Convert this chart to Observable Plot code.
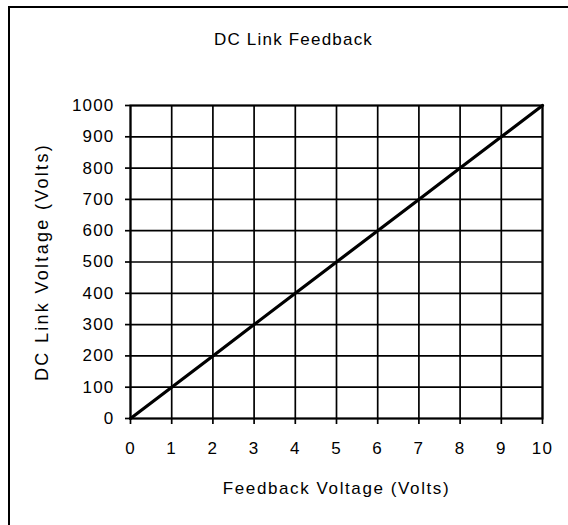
<!DOCTYPE html>
<html>
<head>
<meta charset="utf-8">
<script src="https://cdn.jsdelivr.net/npm/d3@7"></script>
<script src="https://cdn.jsdelivr.net/npm/@observablehq/plot@0.6"></script>
<style>
  html, body { margin: 0; padding: 0; background: #fff; overflow: hidden; }
  #wrap { position: relative; width: 568px; height: 525px; overflow: hidden; }
  #border { position: absolute; left: 8px; top: 6px; width: 700px; height: 700px; border: 2px solid #000; box-sizing: border-box; }
  #chart { position: absolute; left: 0; top: 0; }
</style>
</head>
<body>
<div id="wrap"><div id="border"></div><div id="chart"></div></div>
<script>
const title = "DC Link Feedback";
const xLabel = "Feedback Voltage (Volts)";
const yLabel = "DC Link Voltage (Volts)";
const xTicks = [0, 1, 2, 3, 4, 5, 6, 7, 8, 9, 10];
const yTicks = [0, 100, 200, 300, 400, 500, 600, 700, 800, 900, 1000];
const feedback = [0, 1, 2, 3, 4, 5, 6, 7, 8, 9, 10];
const dcLink = [0, 100, 200, 300, 400, 500, 600, 700, 800, 900, 1000];

const data = feedback.map((f, i) => ({f, v: dcLink[i]}));

const chart = Plot.plot({
  width: 568,
  height: 525,
  marginLeft: 130,
  marginRight: 26,
  marginTop: 105,
  marginBottom: 107,
  style: {fontFamily: "'Liberation Sans', Arial, sans-serif", fontSize: "17px", letterSpacing: "1.2px", color: "#000", background: "transparent"},
  x: {domain: [0, 10]},
  y: {domain: [0, 1000]},
  marks: [
    Plot.ruleX(xTicks, {x: d => d, stroke: "#000", strokeWidth: 1.7, strokeOpacity: 1}),
    Plot.ruleY(yTicks, {y: d => d, stroke: "#000", strokeWidth: 1.7, strokeOpacity: 1}),
    Plot.frame({stroke: "#000", strokeWidth: 2}),
    Plot.axisX(xTicks, {tickSize: 6, tickPadding: 17, tickFormat: d => String(d), stroke: "#000", strokeWidth: 1.7, fill: "#000", fontSize: 17, label: null}),
    Plot.axisY(yTicks, {tickSize: 5, tickPadding: 11, tickFormat: d => String(d), stroke: "#000", strokeWidth: 1.7, fill: "#000", fontSize: 17, label: null}),
    Plot.line(data, {x: "f", y: "v", stroke: "#000", strokeWidth: 3.2}),
    Plot.text([title], {frameAnchor: "top", dx: -43, dy: -66, lineAnchor: "middle", fill: "#000", fontSize: 17}),
    Plot.text([xLabel], {frameAnchor: "bottom", dy: 70, lineAnchor: "middle", fill: "#000", fontSize: 17}),
    Plot.text([yLabel], {frameAnchor: "left", textAnchor: "middle", dx: -88, rotate: -90, lineAnchor: "middle", fill: "#000", fontSize: 18})
  ]
});
d3.select(chart).selectAll("text").each(function() {
  const t = this.textContent;
  if (t === xLabel) this.style.letterSpacing = "1.6px";
  if (t === yLabel) this.style.letterSpacing = "2.3px";
});
document.getElementById("chart").appendChild(chart);
</script>
</body>
</html>
